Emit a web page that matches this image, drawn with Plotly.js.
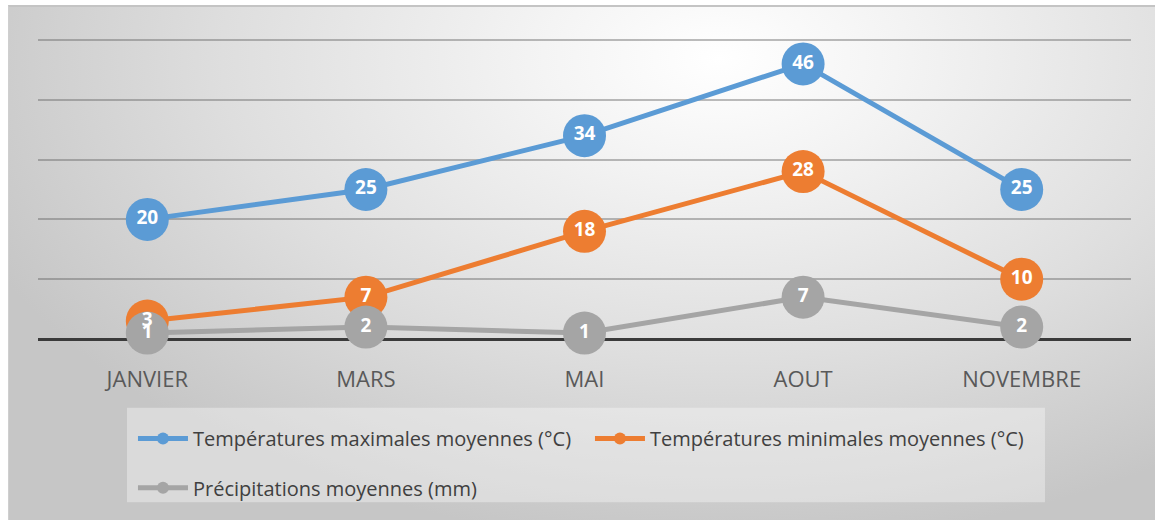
<!DOCTYPE html>
<html>
<head>
<meta charset="utf-8">
<script src="https://cdn.plot.ly/plotly-3.0.1.min.js"></script>
<style>
  html, body { margin:0; padding:0; background:#ffffff; }
  #wrap { position:relative; width:1155px; height:520px; overflow:hidden; }
  #bg { position:absolute; left:8px; top:5px; width:1147px; height:515px;
        background: radial-gradient(ellipse 70% 95% at 62% 10%, #ffffff 0%, #f4f4f4 22%, #dedede 62%, #c6c6c6 100%);
        border-top:2px solid #c4c4c4; border-left:1px solid #cfcfcf; box-sizing:border-box; }
  #chart { position:absolute; left:0; top:0; width:1155px; height:520px; }
</style>
</head>
<body>
<div id="wrap"><div id="bg"></div><div id="chart"></div></div>
<script>
const categories = ["JANVIER", "MARS", "MAI", "AOUT", "NOVEMBRE"];
const tempMax = [20, 25, 34, 46, 25];
const tempMin = [3, 7, 18, 28, 10];
const precip = [1, 2, 1, 7, 2];
const seriesNames = ["Températures maximales moyennes (°C)", "Températures minimales moyennes (°C)", "Précipitations moyennes (mm)"];
const colors = ["#5B9BD5", "#ED7D31", "#A5A5A5"];
const seriesValues = [tempMax, tempMin, precip];
const legendIds = ["legend", "legend3", "legend2"];

const font = "Open Sans, 'Noto Sans', sans-serif";
const traces = [];
seriesValues.forEach((vals, i) => {
  traces.push({
    x: categories, y: vals, name: seriesNames[i],
    type: "scatter", mode: "lines+markers",
    line: {color: colors[i], width: 5},
    marker: {color: colors[i], size: 43},
    cliponaxis: false,
    legend: legendIds[i],
    hoverinfo: "skip"
  });
});
seriesValues.forEach((vals, i) => {
  traces.push({
    x: categories, y: vals, type: "scatter", mode: "text",
    text: vals.map(String), textposition: "middle center",
    textfont: {color: "#ffffff", size: 19, family: font, weight: "bold"},
    showlegend: false, cliponaxis: false, hoverinfo: "skip"
  });
});

const legendBase = {
  orientation: "h", xanchor: "left", yanchor: "top", bgcolor: "rgba(0,0,0,0)",
  itemwidth: 50, itemsizing: "constant",
  font: {family: font, size: 20, color: "#404040"}, itemclick: false, itemdoubleclick: false
};

const layout = {
  width: 1155, height: 520,
  margin: {l: 38, r: 24, t: 34, b: 179},
  paper_bgcolor: "rgba(0,0,0,0)", plot_bgcolor: "rgba(0,0,0,0)",
  showlegend: true,
  xaxis: {
    type: "category", range: [-0.5, 4.5], showgrid: false, zeroline: false,
    showline: false, ticks: "", ticklabelstandoff: 25,
    tickfont: {family: font, size: 22, color: "#595959"}, fixedrange: true
  },
  yaxis: {
    range: [0, 51], dtick: 10, showticklabels: false, ticks: "",
    showgrid: true, gridcolor: "rgba(95,95,95,0.42)", gridwidth: 2,
    zeroline: true, zerolinecolor: "#3a3a3a", zerolinewidth: 3, fixedrange: true
  },
  legend: Object.assign({}, legendBase, {x: 0.0869, y: -0.262}),
  legend3: Object.assign({}, legendBase, {x: 0.505, y: -0.262}),
  legend2: Object.assign({}, legendBase, {x: 0.0869, y: -0.424}),
  shapes: [{
    type: "rect", xref: "paper", yref: "paper", layer: "below",
    x0: 0.0814, x1: 0.9213, y0: -0.535, y1: -0.225,
    fillcolor: "rgba(255,255,255,0.35)", line: {width: 0}
  }]
};

Plotly.newPlot("chart", traces, layout, {displayModeBar: false, staticPlot: true});
</script>
</body>
</html>
